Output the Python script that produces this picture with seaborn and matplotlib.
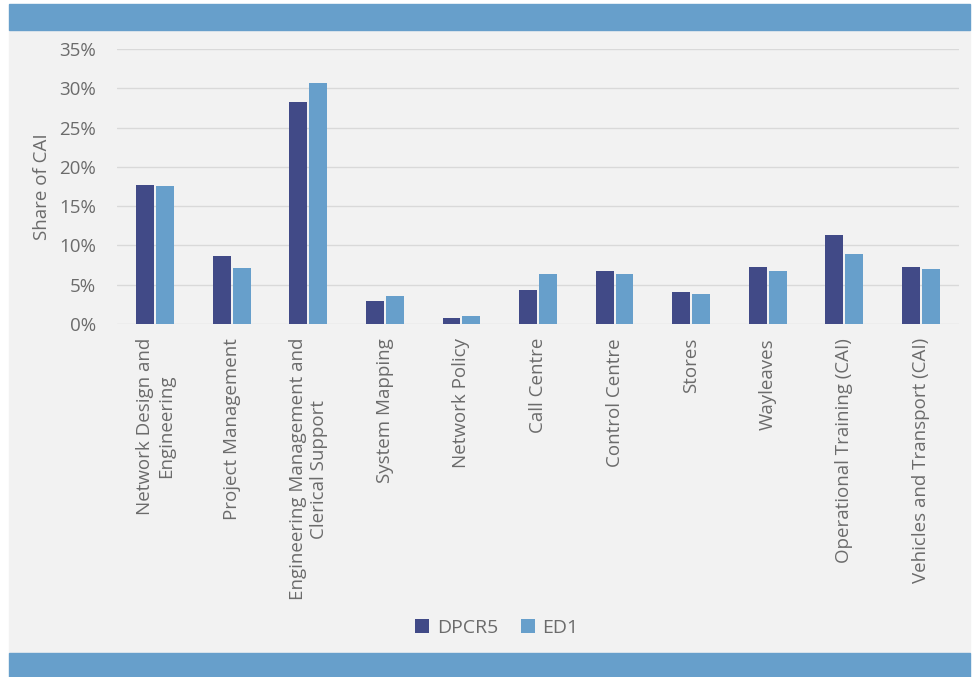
import matplotlib.pyplot as plt
import seaborn as sns
import pandas as pd
from matplotlib.patches import Rectangle
from matplotlib.ticker import PercentFormatter

categories = ["Network Design and\nEngineering", "Project Management",
              "Engineering Management and\nClerical Support", "System Mapping",
              "Network Policy", "Call Centre", "Control Centre", "Stores",
              "Wayleaves", "Operational Training (CAI)", "Vehicles and Transport (CAI)"]
dpcr5 = [17.7, 8.6, 28.3, 2.9, 0.8, 4.3, 6.7, 4.1, 7.2, 11.3, 7.2]
ed1 = [17.6, 7.1, 30.7, 3.6, 1.0, 6.3, 6.4, 3.8, 6.7, 8.9, 7.0]

df = pd.DataFrame({
    "category": categories * 2,
    "share": dpcr5 + ed1,
    "series": ["DPCR5"] * len(categories) + ["ED1"] * len(categories),
})

sns.set_style("white")
plt.rcParams['font.family'] = ['Open Sans', 'DejaVu Sans']
txt = "#6b6b6b"

fig = plt.figure(figsize=(9.76, 6.77), dpi=100)
W, H = 976, 677
# grey panel and blue bands
fig.patches.append(Rectangle((9 / W, 1 - 653 / H), 961 / W, 623 / H,
                             transform=fig.transFigure, color="#f2f2f2", zorder=-2))
fig.patches.append(Rectangle((9 / W, 1 - 30 / H), 961 / W, 26 / H,
                             transform=fig.transFigure, color="#679fcb", zorder=-1))
fig.patches.append(Rectangle((9 / W, 0), 961 / W, 24 / H,
                             transform=fig.transFigure, color="#679fcb", zorder=-1))

ax = fig.add_axes([117 / W, 1 - 324 / H, 842 / W, 275 / H])
ax.set_facecolor("none")
sns.barplot(data=df, x="category", y="share", hue="series", ax=ax,
            palette=["#414a87", "#679fcb"], width=0.52, gap=0.1,
            edgecolor="none", saturation=1, zorder=3)

ax.set_ylim(0, 35)
ax.set_yticks(range(0, 36, 5))
ax.yaxis.set_major_formatter(PercentFormatter(decimals=0))
ax.grid(axis="y", color="#d9d9d9", lw=1, zorder=0)
for s in ax.spines.values():
    s.set_visible(False)
ax.tick_params(length=0, colors=txt, labelsize=13.5)
ax.tick_params(axis="y", pad=15)
ax.tick_params(axis="x", pad=10)
plt.setp(ax.get_xticklabels(), rotation=90, ha="center", va="top", multialignment="center")
ax.set_xlabel("")
ax.set_ylabel("Share of CAI", color=txt, fontsize=13.5, labelpad=6)
ax.set_xlim(-0.5, len(categories) - 0.5)

ax.legend(loc="center", bbox_to_anchor=(497 / W, 1 - 628 / H),
          bbox_transform=fig.transFigure, ncol=2, frameon=False,
          fontsize=14, labelcolor=txt, handlelength=0.7, handleheight=0.7,
          handletextpad=0.4, columnspacing=1.2)

fig.savefig("out.png", dpi=100, facecolor="white")
